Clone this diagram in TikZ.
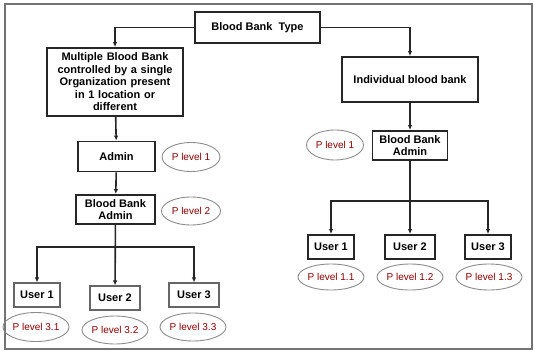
\documentclass[tikz,border=0pt]{standalone}
\usepackage{fontspec}
\setmainfont{Liberation Sans}
\usetikzlibrary{shapes.geometric,arrows.meta}

\tikzset{
  box/.style={draw=black!85, line width=1.9pt, fill=white, inner sep=1pt,
    align=center, font=\bfseries\fontsize{11}{12.5}\selectfont},
  thinbox/.style={box, draw=black!60, line width=1.2pt},
  plevel/.style={ellipse, draw=black!45, line width=0.9pt, inner sep=0pt,
    text=red!55!black, font=\fontsize{10}{12}\selectfont},
  link/.style={draw=black!85, line width=1.6pt},
  arr/.style={link, -{Latex[length=5pt,width=4.5pt]}}
}

\begin{document}
\begin{tikzpicture}[x=1pt, y=-1pt]
  \useasboundingbox (0,0) rectangle (534,352);
  \draw[black!55, line width=2pt] (5,4) rectangle (532,349);

  % top
  \node[box, minimum width=125, minimum height=31] (type) at (257.5,27.5) {Blood Bank \ Type};

  % left side: multiple blood banks
  \node[box, minimum width=136, minimum height=68, text width=132] (multi) at (115,82)
    {Multiple Blood Bank\\controlled by a single\\Organization present\\in 1 location or\\different};
  \node[box, minimum width=77, minimum height=30] (admin) at (116.5,156.5) {Admin};
  \node[box, minimum width=79, minimum height=29] (lbba) at (115.5,209.5) {Blood Bank\\Admin};
  \node[thinbox, minimum width=46, minimum height=24] (lu1) at (37,295) {User 1};
  \node[thinbox, minimum width=50, minimum height=24] (lu2) at (115,298) {User 2};
  \node[thinbox, minimum width=50, minimum height=24] (lu3) at (194,295) {User 3};
  \coordinate (lsplit) at (115,247);

  \node[plevel, minimum width=58, minimum height=29] (lp1) at (191,157) {P level 1};
  \node[plevel, minimum width=59, minimum height=28] (lp2) at (191,211) {P level 2};
  \node[plevel, minimum width=60, minimum height=29] (lp31) at (36,327) {P level 3.1};
  \node[plevel, minimum width=56, minimum height=28] (lp32) at (115,330) {P level 3.2};
  \node[plevel, minimum width=57, minimum height=28] (lp33) at (193,327) {P level 3.3};

  % right side: individual blood bank
  \node[box, minimum width=136, minimum height=45] (indiv) at (410,79.5) {Individual blood bank};
  \node[box, minimum width=75, minimum height=29] (rbba) at (410,145.5) {Blood Bank\\Admin};
  \node[box, minimum width=46, minimum height=24] (ru1) at (331,247) {User 1};
  \node[box, minimum width=50, minimum height=24] (ru2) at (410,247) {User 2};
  \node[box, minimum width=46, minimum height=24] (ru3) at (488,247) {User 3};
  \coordinate (rsplit) at (410,201);

  \node[plevel, minimum width=57, minimum height=30] (rp1) at (335,145) {P level 1};
  \node[plevel, minimum width=58, minimum height=26] (rp11) at (331,277) {P level 1.1};
  \node[plevel, minimum width=58, minimum height=26] (rp12) at (410,277) {P level 1.2};
  \node[plevel, minimum width=58, minimum height=26] (rp13) at (489,277) {P level 1.3};

  % connectors
  \draw[arr] (type.west) -| (multi.north);
  \draw[arr] (type.east) -| (indiv.north);
  \draw[arr] (multi) -- (admin);
  \draw[arr] (admin) -- (lbba);
  \draw[arr] (lbba) -- (lu2);
  \draw[arr] (lsplit) -| (lu1.north);
  \draw[arr] (lsplit) -| (lu3.north);
  \draw[arr] (indiv) -- (rbba);
  \draw[arr] (rbba) -- (ru2);
  \draw[arr] (rsplit) -| (ru1.north);
  \draw[arr] (rsplit) -| (ru3.north);
\end{tikzpicture}
\end{document}
